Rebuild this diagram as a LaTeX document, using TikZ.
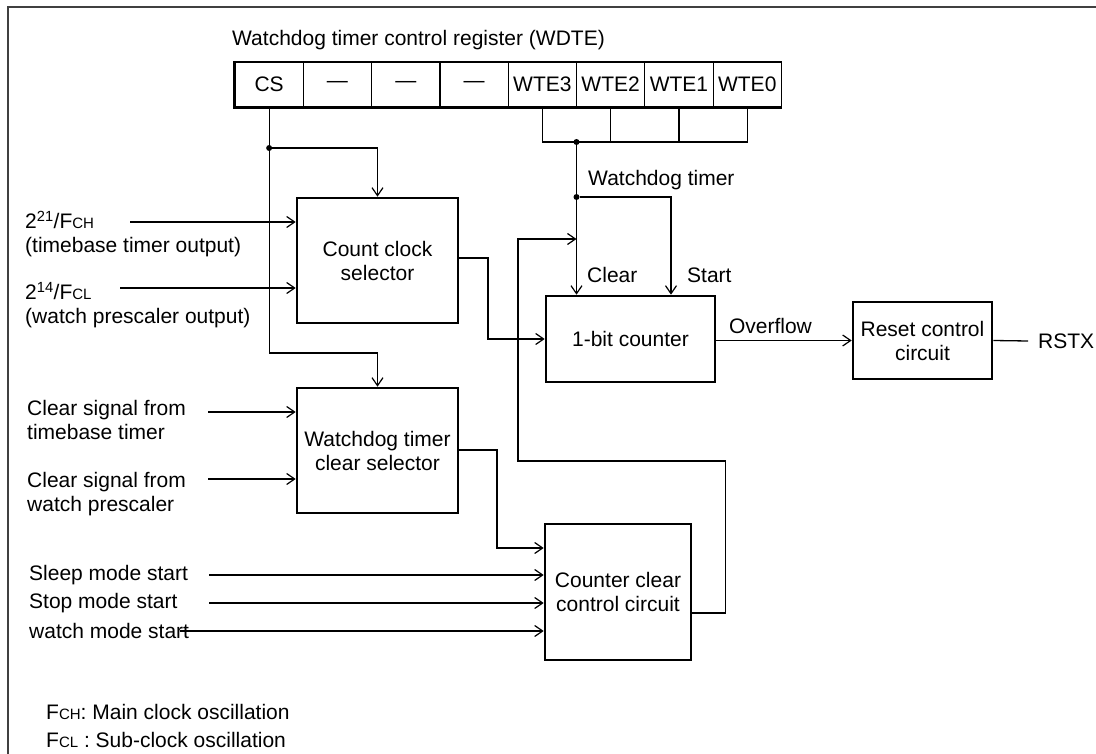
\documentclass[tikz,border=0pt]{standalone}
\usepackage{fontspec}
\setmainfont{Liberation Sans}
\usetikzlibrary{arrows.meta}
\newcommand{\smc}[1]{{\fontsize{15}{15}\selectfont #1}}
\tikzset{
  blk/.style={draw, line width=2.6pt, align=center, inner sep=0pt},
  reg/.style={draw, line width=1.2pt, minimum width=68.3pt, minimum height=45pt, inner sep=0pt},
  sig/.style={line width=1.3pt},
  arr/.style={sig, -{Straight Barb[length=8pt,width=11pt,line width=1.2pt]}},
  lbl/.style={anchor=west, align=left, inner sep=0pt},
  jdot/.style={circle, fill, inner sep=0pt, minimum size=6pt},
}
\begin{document}
\begin{tikzpicture}[x=1pt, y=-1pt, font=\fontsize{21}{24}\selectfont]
  \useasboundingbox (0,0) rectangle (1096,754);
  \draw[line width=2pt, black!75] (8,754) -- (8,7) -- (1096,7);

  % register
  \node[lbl] (title) at (232,40) {Watchdog timer control register (WDTE)};
  \node[reg] (cs) at (269.15,84.5) {CS};
  \node[reg] (r6) at (337.45,84.5) {---};
  \node[reg] (r5) at (405.75,84.5) {---};
  \node[reg] (r4) at (474.05,84.5) {---};
  \node[reg] (wte3) at (542.35,84.5) {WTE3};
  \node[reg] (wte2) at (610.65,84.5) {WTE2};
  \node[reg] (wte1) at (678.95,84.5) {WTE1};
  \node[reg] (wte0) at (747.25,84.5) {WTE0};
  \draw[line width=2.8pt] (cs.north west) -- (cs.south west) -- (wte0.south east);

  % blocks
  \node[blk, minimum width=161pt, minimum height=125pt] (ccs) at (377.5,260.5) {Count clock\\selector};
  \node[blk, minimum width=161pt, minimum height=125pt] (wtcs) at (377.5,450.5) {Watchdog timer\\clear selector};
  \node[blk, minimum width=169pt, minimum height=86pt] (cnt) at (630.5,339) {1-bit counter};
  \node[blk, minimum width=139pt, minimum height=77pt] (rst) at (922.5,340.5) {Reset control\\circuit};
  \node[blk, minimum width=146pt, minimum height=136pt] (ccc) at (618,592) {Counter clear\\control circuit};
  \node[lbl] (rstx) at (1038,341) {RSTX};

  % input labels
  \node[lbl] (f21) at (25,234) {2\textsuperscript{21}/F\smc{CH}\\(timebase timer output)};
  \node[lbl] (f14) at (25,305) {2\textsuperscript{14}/F\smc{CL}\\(watch prescaler output)};
  \node[lbl] (clrtb) at (27,420) {Clear signal from\\timebase timer};
  \node[lbl] (clrwp) at (27,494) {Clear signal from\\watch prescaler};
  \node[lbl] (sleep) at (29,575) {Sleep mode start};
  \node[lbl] (stop) at (29,603) {Stop mode start};
  \node[lbl] (watch) at (29,631) {watch mode start};
  \node[lbl] (nch) at (46,712) {F\smc{CH}: Main clock oscillation};
  \node[lbl] (ncl) at (46,740) {F\smc{CL} : Sub-clock oscillation};

  % free ends and bends
  \coordinate (in1) at (130,222);
  \coordinate (in2) at (120,288);
  \coordinate (in3) at (208,412);
  \coordinate (in4) at (208,479);
  \coordinate (in5) at (209,575);
  \coordinate (in6) at (209,603);
  \coordinate (in7) at (180,631);
  \coordinate (k2) at (269.15,353);
  \coordinate (br) at (576.5,142);
  \coordinate (st) at (671,197);
  \coordinate (cc1) at (488,258);
  \coordinate (wc1) at (497,450);
  \coordinate (wc2) at (497,548);
  \coordinate (fb1) at (725.7,613);
  \coordinate (fb2) at (518,461);
  \coordinate (fb3) at (576.5,239);
  \node[jdot] (j1) at (269.15,148) {};
  \node[jdot] (j2) at (576.5,142) {};
  \node[jdot] (j3) at (576.5,197) {};

  % CS select lines
  \draw[sig] (cs.south) -- (k2);
  \draw[arr] (j1) -| (ccs.north);
  \draw[arr] (k2) -| (wtcs.north);

  % WTE bits
  \draw[sig] (wte3.south) -- (wte3.south |- br) -- (wte0.south |- br) -- (wte0.south);
  \draw[sig] (wte2.south) -- (wte2.south |- br);
  \draw[sig] (wte1.south) -- (wte1.south |- br);
  \draw[sig] (j2) -- (j3);
  \draw[arr] (j3) -- (j3 |- cnt.north);
  \draw[arr] (j3) -- (st) -- (st |- cnt.north);
  \node[lbl] (wdt) at (588,180) {Watchdog timer};
  \node[lbl] (clr) at (587,275) {Clear};
  \node[lbl] (start) at (687,275) {Start};

  % inputs
  \draw[arr] (in1) -- (in1 -| ccs.west);
  \draw[arr] (in2) -- (in2 -| ccs.west);
  \draw[arr] (in3) -- (in3 -| wtcs.west);
  \draw[arr] (in4) -- (in4 -| wtcs.west);
  \draw[arr] (in5) -- (in5 -| ccc.west);
  \draw[arr] (in6) -- (in6 -| ccc.west);
  \draw[arr] (in7) -- (in7 -| ccc.west);

  % block to block
  \draw[arr] (ccs.east |- cc1) -- (cc1) |- (cnt.west);
  \draw[arr] (wtcs.east |- wc1) -- (wc1) -- (wc2) -- (wc2 -| ccc.west);
  \draw[arr] (ccc.east |- fb1) -- (fb1) |- (fb2) |- (fb3);
  \draw[arr] (cnt.east |- rst.west) -- (rst.west) node[pos=0.4, above=3pt] {Overflow};
  \draw[sig] (rst.east) -- ([xshift=-10pt]rstx.west);
\end{tikzpicture}
\end{document}
